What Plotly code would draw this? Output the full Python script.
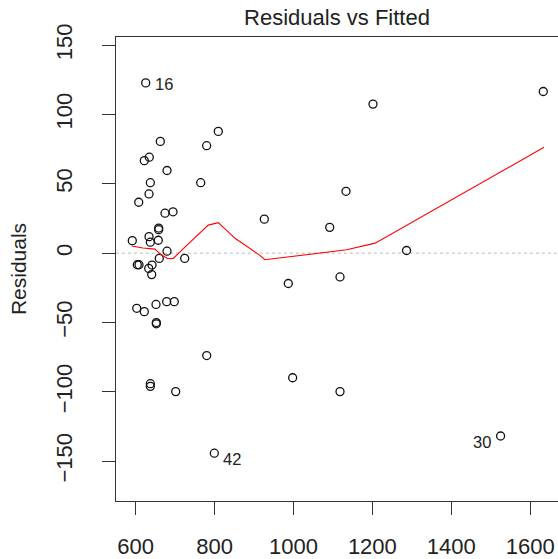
import plotly.graph_objects as go

# Fitted values and residuals
fitted = [625.6, 809.6, 662.6, 780.0, 622.0, 634.7, 679.6, 637.3, 765.0, 634.0,
          607.9, 674.5, 694.8, 658.5, 658.5, 591.6, 634.0, 637.3, 657.5, 679.6,
          724.4, 660.0, 604.3, 608.6, 641.6, 633.2, 640.8, 602.8, 622.0, 651.7,
          678.8, 698.0, 652.5, 652.5, 780.2, 637.3, 637.3, 701.6, 799.5, 1633.2,
          1201.6, 1133.2, 926.2, 1091.9, 1286.7, 1118.0, 987.0, 998.0, 1118.0, 1525.0]
residuals = [122.8, 87.8, 80.6, 77.5, 66.7, 69.2, 59.6, 50.8, 50.8, 42.7,
             36.7, 28.8, 29.8, 18.1, 16.9, 9.0, 11.9, 7.9, 9.3, 1.4,
             -3.8, -3.8, -8.4, -8.4, -8.6, -11.0, -15.5, -39.8, -42.2, -37.0,
             -35.0, -35.0, -50.1, -51.0, -73.9, -94.2, -96.1, -99.9, -144.3, 116.6,
             107.5, 44.6, 24.5, 18.6, 1.9, -17.2, -21.9, -89.9, -99.9, -131.9]

# Smoother (lowess) path
smooth_x = [590.0, 618.8, 649.0, 661.8, 681.3, 695.5, 715.0, 784.0, 809.6, 852.0,
            915.0, 927.5, 1135.0, 1207.0, 1635.0]
smooth_y = [5.2, 3.7, 2.9, -0.5, -4.1, -3.8, 1.6, 20.2, 22.0, 10.7,
            -1.6, -4.8, 2.4, 7.2, 76.3]

# Labelled observations: (label, index into arrays, side)
labelled = [("16", 0, "right"), ("42", 38, "right"), ("30", 49, "left")]

x_ticks = [600, 800, 1000, 1200, 1400, 1600]
y_ticks = [-150, -100, -50, 0, 50, 100, 150]

FONT = "Liberation Sans, Arial, sans-serif"

fig = go.Figure()
fig.add_trace(go.Scatter(x=[550, 1700], y=[0, 0], mode="lines",
                         line=dict(color="#b8b8b8", width=1, dash="dot"),
                         hoverinfo="skip", showlegend=False))
fig.add_trace(go.Scatter(x=fitted, y=residuals, mode="markers",
                         marker=dict(symbol="circle-open", size=8,
                                     color="#111111", line=dict(width=1.3, color="#111111")),
                         showlegend=False))
fig.add_trace(go.Scatter(x=smooth_x, y=smooth_y, mode="lines",
                         line=dict(color="red", width=1.1), showlegend=False))

for lab, i, side in labelled:
    fig.add_annotation(x=fitted[i], y=residuals[i], text=lab, showarrow=False,
                       xanchor="left" if side == "right" else "right",
                       yanchor="middle",
                       xshift=7 if side == "right" else -8,
                       yshift=-1 if lab == "16" else -6,
                       font=dict(family=FONT, size=16.5, color="#222222"))

fig.update_layout(
    width=558, height=559,
    margin=dict(l=116, r=0, t=37, b=54),
    paper_bgcolor="white", plot_bgcolor="white",
    title=dict(text="Residuals vs Fitted", x=0.5, xref="paper", xanchor="center",
               y=1 - 17 / 559, yref="container", yanchor="middle",
               font=dict(family=FONT, size=22, color="#222222")),
    font=dict(family=FONT, size=22, color="#222222"),
)
fig.update_xaxes(range=[550.3, 1670.5], tickvals=x_ticks, ticks="outside", ticklen=13,
                 tickwidth=1.3, tickcolor="#333333", showline=True, linecolor="#333333",
                 linewidth=1.3, mirror=True, showgrid=False, zeroline=False,
                 tickfont=dict(family=FONT, size=22, color="#222222"),
                 ticklabelstandoff=12)
fig.update_yaxes(range=[-178.8, 155.9], tickvals=y_ticks, ticks="outside", ticklen=13,
                 tickwidth=1.3, tickcolor="#333333", showline=True, linecolor="#333333",
                 linewidth=1.3, mirror=False, showgrid=False, zeroline=False,
                 tickangle=-90, tickfont=dict(family=FONT, size=22, color="#222222"),
                 ticklabelstandoff=21,
                 title=dict(text="Residuals", standoff=19,
                            font=dict(family=FONT, size=21, color="#222222")))

fig.write_html("out.html")
